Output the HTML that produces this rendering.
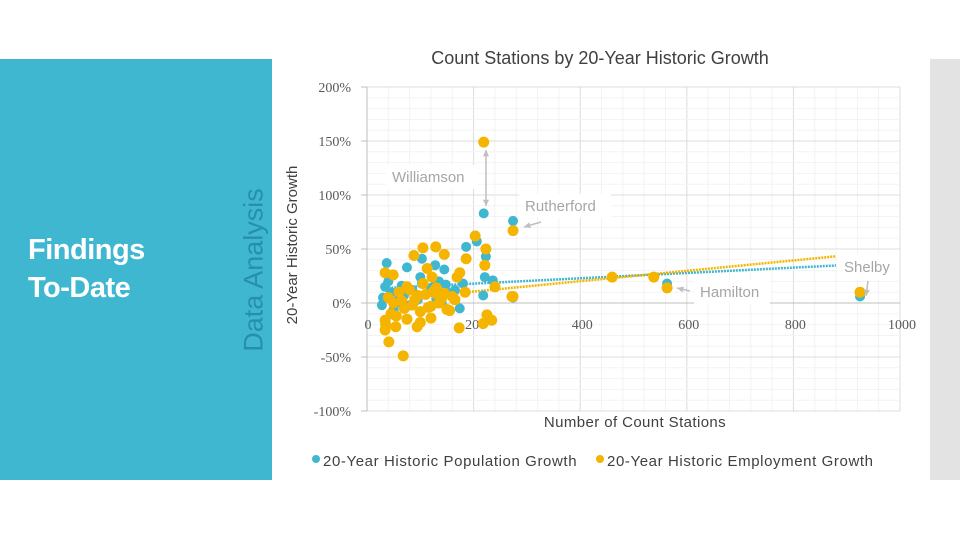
<!DOCTYPE html>
<html><head><meta charset="utf-8"><style>
body{margin:0;width:960px;height:540px;background:#fff;overflow:hidden;font-family:"Liberation Sans",sans-serif}
</style></head><body>
<div style="position:absolute;left:0;top:59px;width:272px;height:421px;background:#3fb7d1"></div>
<div style="position:absolute;left:28px;top:231px;color:#fff;font-size:29px;line-height:38px;font-weight:bold;letter-spacing:-0.5px">Findings<br>To-Date</div>
<div style="position:absolute;top:270px;transform:translate(-50%,-50%) rotate(-90deg);transform-origin:center;color:#2690ab;font-size:27px;white-space:nowrap;left:254px">Data Analysis</div>
<div style="position:absolute;left:930px;top:59px;width:30px;height:421px;background:#e3e3e3"></div>
<svg id="chart" width="960" height="540" style="position:absolute;left:0;top:0"></svg>
<script>
const xTicks=[0,200,400,600,800,1000];
const yTicks=[-100,-50,0,50,100,150,200];
const popX=[219,274,274,460,563,925,37,75,103,128,145,186,206,223,221,236,218,148,174,180,34,103,28,45,60,85,95,110,120,135,150,160,40,55,70,90,115,130,165,50,80,140,100,125,30,65];
const popY=[83,76,5,24,18,6,37,33,41,35,31,52,57,43,24,21,7,17,-5,18,15,18,-2,10,5,12,3,8,14,20,10,6,20,0,8,2,-4,4,12,-6,-2,0,24,15,5,16];
const empX=[219,274,274,460,538,563,925,105,129,145,88,203,186,223,221,240,184,272,225,234,218,173,94,54,41,68,34,34,49,34,113,122,169,174,128,40,50,60,70,80,90,100,110,120,130,140,150,160,45,65,75,85,95,105,115,125,135,145,155,165,35,55,75,100,120];
const empY=[149,67,6,24,24,14,10,51,52,45,44,62,41,50,35,15,10,6,-11,-16,-19,-23,-22,-22,-36,-49,-25,-16,26,28,32,24,24,28,9,5,0,10,-5,12,3,-8,8,-3,14,4,-6,6,-10,2,15,-2,7,18,-4,11,0,9,-7,3,-20,-12,-15,-18,-14];
const popTrend=[13,0.0247];
const empTrend=[1,0.048];
const X=v=>367+v*0.533, Y=v=>303-v*1.08;
const svg=document.getElementById('chart');const NS='http://www.w3.org/2000/svg';
function mk(t,a,txt){const e=document.createElementNS(NS,t);for(const k in a)e.setAttribute(k,a[k]);if(txt!=null)e.textContent=txt;svg.appendChild(e);return e;}
for(let v=40;v<=1000;v+=40){const g=mk('line',{x1:X(v),x2:X(v),y1:Y(200),y2:Y(-100),stroke:v%200==0?'#dcdcdc':'#f3f3f3'});

}
for(let v=-100;v<=200;v+=10){const g=mk('line',{x1:X(0),x2:X(1000),y1:Y(v),y2:Y(v),stroke:v%50==0?'#dcdcdc':'#f3f3f3'});

}
const ax=mk('line',{x1:X(0),x2:X(0),y1:Y(200),y2:Y(-100),stroke:'#bfbfbf'});


const bx=mk('line',{x1:X(0),x2:X(1000),y1:Y(0),y2:Y(0),stroke:'#bfbfbf'});


yTicks.forEach(v=>{mk('line',{x1:X(0)-6,x2:X(0),y1:Y(v),y2:Y(v),stroke:'#bfbfbf'});
const t=mk('text',{x:351,y:Y(v)+5,'text-anchor':'end','font-size':14,fill:'#595959','font-family':'Liberation Serif'},v+'%');

});
xTicks.forEach(v=>{const t=mk('text',{x:X(v)+(v==0?1:2),y:329,'text-anchor':'middle','font-size':14,fill:'#595959','font-family':'Liberation Serif'},v);

});
[[popTrend,'#3fb7d1'],[empTrend,'#f5b400']].forEach(([c,col])=>{const l=mk('line',{x1:X(40),y1:Y(c[0]+c[1]*40),x2:X(880),y2:Y(c[0]+c[1]*880),stroke:col,'stroke-width':2.5,'stroke-dasharray':'2 1'});

});
popX.forEach((x,i)=>{const c=mk('circle',{cx:X(x),cy:Y(popY[i]),r:5,fill:'#3fb7d1'});

});
empX.forEach((x,i)=>{const c=mk('circle',{cx:X(x),cy:Y(empY[i]),r:5.5,fill:'#f5b400'});

});
function ann(name,x,y,w,txt){mk('rect',{x:x,y:y,width:w,height:24,fill:'#fff'});
const t=mk('text',{x:x+6,y:y+17,'font-size':15,fill:'#a6a6a6'},txt);

}
ann('williamson-label',386,165,92,'Williamson');
ann('rutherford-label',519,194,92,'Rutherford');
ann('hamilton-label',694,280,76,'Hamilton');
ann('shelby-label',838,255,60,'Shelby');
function arr(x1,y1,x2,y2){mk('line',{x1,y1,x2,y2,stroke:'#bfbfbf','stroke-width':1.5});
const a=Math.atan2(y2-y1,x2-x1);mk('polygon',{points:`${x2},${y2} ${x2-7*Math.cos(a-0.45)},${y2-7*Math.sin(a-0.45)} ${x2-7*Math.cos(a+0.45)},${y2-7*Math.sin(a+0.45)}`,fill:'#bfbfbf'});}
arr(486,178,486,150);arr(486,178,486,206);
arr(541,222,524,227);arr(690,291,677,288);arr(868,281,866,296);
const tt=mk('text',{x:600,y:64,'text-anchor':'middle','font-size':18,fill:'#404040'},'Count Stations by 20-Year Historic Growth');


const xt=mk('text',{x:635,y:427,'text-anchor':'middle','font-size':15,fill:'#404040','letter-spacing':0.4},'Number of Count Stations');


const yt=mk('text',{x:0,y:0,'text-anchor':'middle','font-size':15,fill:'#404040',transform:'translate(297,245) rotate(-90)'},'20-Year Historic Growth');


mk('circle',{cx:316,cy:459,r:4,fill:'#3fb7d1'});
const l1=mk('text',{x:323,y:466,'font-size':15,fill:'#404040','letter-spacing':0.6},'20-Year Historic Population Growth');


mk('circle',{cx:600,cy:459,r:4,fill:'#f5b400'});
const l2=mk('text',{x:607,y:466,'font-size':15,fill:'#404040','letter-spacing':0.6},'20-Year Historic Employment Growth');


</script>
</body></html>
